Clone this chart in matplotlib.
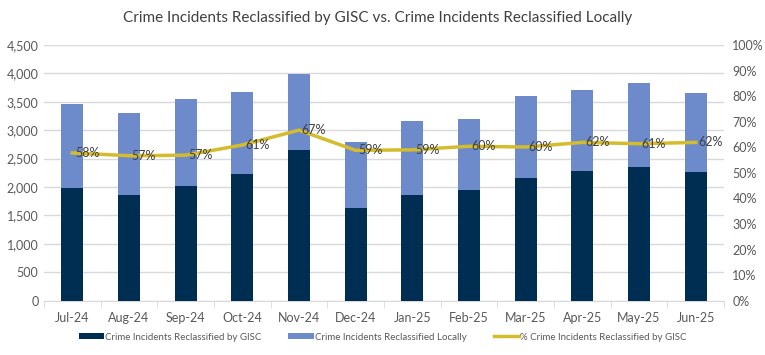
import matplotlib
matplotlib.use("Agg")
import matplotlib.pyplot as plt
import numpy as np
from matplotlib.ticker import FuncFormatter, FixedLocator

plt.rcParams['font.family'] = ['Lato', 'DejaVu Sans']

months = ["Jul-24", "Aug-24", "Sep-24", "Oct-24", "Nov-24", "Dec-24",
          "Jan-25", "Feb-25", "Mar-25", "Apr-25", "May-25", "Jun-25"]
gisc = [1990, 1865, 2015, 2235, 2655, 1635, 1865, 1940, 2165, 2285, 2360, 2260]
local_ = [1465, 1435, 1535, 1445, 1335, 1150, 1300, 1265, 1440, 1415, 1480, 1390]
pct = [57.8, 56.7, 56.9, 60.9, 66.7, 58.8, 59.0, 60.4, 60.1, 61.9, 61.4, 61.9]

c_dark = "#002D52"
c_light = "#6D8BCB"
c_line = "#D4BC2C"
c_text = "#595959"

fig = plt.figure(figsize=(7.65, 3.55), dpi=100)
ax = fig.add_axes([44/765, 1 - 300.7/355, (724-44)/765, (300.7-45)/355])
x = np.arange(len(months))
w = 0.39
ax.bar(x, gisc, w, color=c_dark, label="Crime Incidents Reclassified by GISC", zorder=3)
ax.bar(x, local_, w, bottom=gisc, color=c_light, label="Crime Incidents Reclassified Locally", zorder=3)
ax.set_ylim(0, 4500)
ax.set_yticks(np.arange(0, 4501, 500))
ax.yaxis.set_major_formatter(FuncFormatter(lambda v, p: f"{int(v):,}"))
ax.set_xlim(-0.5, len(months) - 0.5)
ax.set_xticks(x)
ax.set_xticklabels(months)
ax.xaxis.set_minor_locator(FixedLocator(np.arange(-0.5, len(months), 1.0)))
ax.tick_params(axis='x', which='major', length=0, pad=8, labelsize=9, colors=c_text)
ax.tick_params(axis='x', which='minor', length=5, color="#D9D9D9")
ax.tick_params(axis='y', length=0, pad=4, labelsize=9, colors=c_text)
ax.grid(axis='y', color="#D9D9D9", linewidth=1, zorder=0)
for s in ['top', 'right', 'left']:
    ax.spines[s].set_visible(False)
ax.spines['bottom'].set_color("#D9D9D9")

ax2 = ax.twinx()
ax2.plot(x, pct, color=c_line, linewidth=2.5, zorder=4, label="% Crime Incidents Reclassified by GISC")
ax2.set_ylim(0, 100)
ax2.set_yticks(np.arange(0, 101, 10))
ax2.yaxis.set_major_formatter(FuncFormatter(lambda v, p: f"{int(v)}%"))
ax2.tick_params(axis='y', length=0, pad=6, labelsize=9, colors=c_text)
for s in ['top', 'right', 'left', 'bottom']:
    ax2.spines[s].set_visible(False)
for xi, p in zip(x, pct):
    ax2.text(xi + 0.05, p, f"{round(p)}%", ha='left', va='center', fontsize=9, color="#404040", zorder=5)

fig.text(0.494, 1 - 18/355, "Crime Incidents Reclassified by GISC vs. Crime Incidents Reclassified Locally",
         ha='center', va='center', fontsize=11, color="#404040")

h1, l1 = ax.get_legend_handles_labels()
h2, l2 = ax2.get_legend_handles_labels()
fig.legend(h1 + h2, l1 + l2, loc='center', bbox_to_anchor=(0.5, 1 - 337/355), ncol=3,
           frameon=False, fontsize=7, labelcolor=c_text, handlelength=2.6, handleheight=0.45,
           columnspacing=2.8, handletextpad=0.1)

fig.savefig("out.png", dpi=100)
